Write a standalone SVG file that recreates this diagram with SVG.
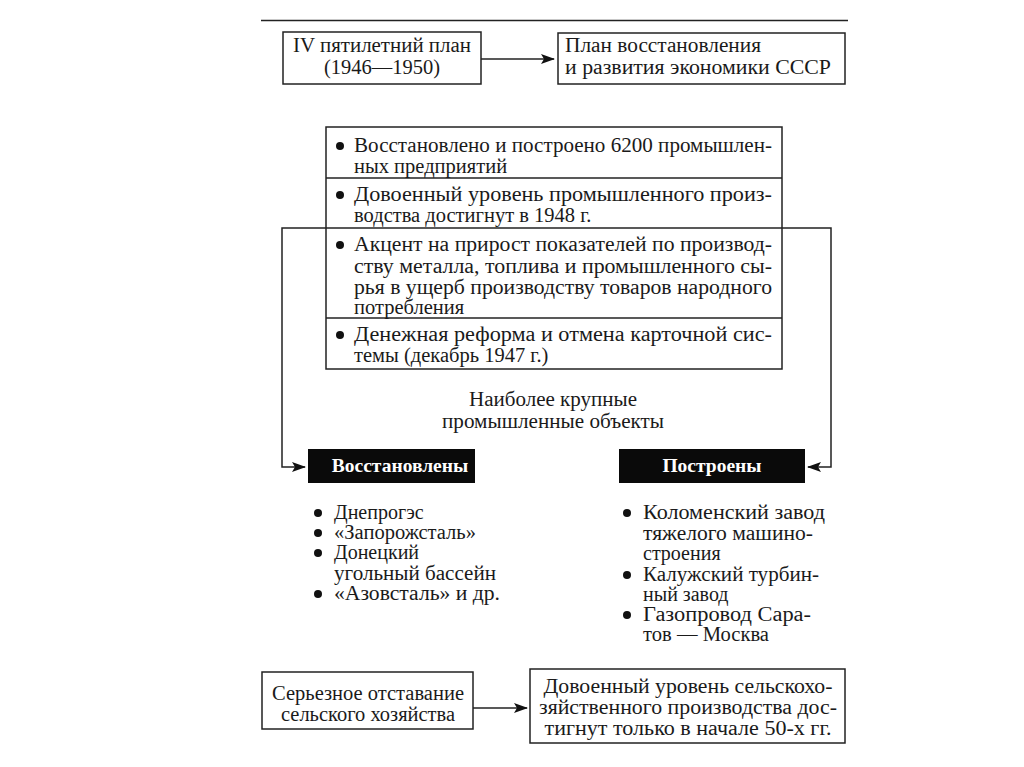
<svg xmlns="http://www.w3.org/2000/svg" width="1024" height="767" viewBox="0 0 1024 767">
<defs>
<style>
text{font-family:"Liberation Serif","Times New Roman",serif;font-size:20.5px;fill:#1a1a1a}
.lst{font-size:20px}
.box{fill:#fff;stroke:#222;stroke-width:1.5}
.blk{fill:#0a0a0a;stroke:none}
.wt{fill:#fff;font-weight:bold;font-size:19.5px}
.ln{fill:none;stroke:#222;stroke-width:1.5}
.mid{text-anchor:middle}
</style>
<marker id="ah" markerWidth="14" markerHeight="10" refX="13" refY="5" orient="auto" markerUnits="userSpaceOnUse">
<path d="M0,0 L14,5 L0,10 L3,5 z" fill="#111"/>
</marker>
</defs>
<rect width="1024" height="767" fill="#fff"/>
<line x1="261" y1="20.5" x2="848" y2="20.5" stroke="#222" stroke-width="1.5"/>

<g id="connectors">
<line class="ln" x1="481" y1="59" x2="554" y2="59" marker-end="url(#ah)"/>
<polyline class="ln" points="326,228 282,228 282,467 305,467" marker-end="url(#ah)"/>
<polyline class="ln" points="782,228 831,228 831,467 808,467" marker-end="url(#ah)"/>
<line class="ln" x1="473" y1="708" x2="527" y2="708" marker-end="url(#ah)"/>
</g>

<g id="plan4">
<rect class="box" x="283" y="32" width="198" height="52"/>
<text class="mid" x="382" y="52" textLength="178" lengthAdjust="spacingAndGlyphs">IV пятилетний план</text>
<text class="mid" x="382" y="74">(1946—1950)</text>
</g>

<g id="plan-restore">
<rect class="box" x="558" y="33" width="287" height="51"/>
<text x="565" y="52" textLength="196" lengthAdjust="spacingAndGlyphs">План восстановления</text>
<text x="565" y="74" textLength="266" lengthAdjust="spacingAndGlyphs">и развития экономики СССР</text>
</g>

<g id="results">
<rect class="box" x="326" y="127" width="456" height="242"/>
<line class="ln" x1="326" y1="178" x2="782" y2="178"/>
<line class="ln" x1="326" y1="228" x2="782" y2="228"/>
<line class="ln" x1="326" y1="318" x2="782" y2="318"/>
<circle cx="340" cy="146" r="4" fill="#111"/>
<text x="354" y="152" textLength="418" lengthAdjust="spacingAndGlyphs">Восстановлено и построено 6200 промышлен-</text>
<text x="354" y="173">ных предприятий</text>
<circle cx="340" cy="195" r="4" fill="#111"/>
<text x="354" y="201" textLength="418" lengthAdjust="spacingAndGlyphs">Довоенный уровень промышленного произ-</text>
<text x="354" y="222">водства достигнут в 1948 г.</text>
<circle cx="340" cy="245" r="4" fill="#111"/>
<text x="354" y="251" textLength="418" lengthAdjust="spacingAndGlyphs">Акцент на прирост показателей по производ-</text>
<text x="354" y="273" textLength="418" lengthAdjust="spacingAndGlyphs">ству металла, топлива и промышленного сы-</text>
<text x="354" y="294" textLength="418" lengthAdjust="spacingAndGlyphs">рья в ущерб производству товаров народного</text>
<text x="354" y="314">потребления</text>
<circle cx="340" cy="335" r="4" fill="#111"/>
<text x="354" y="341" textLength="418" lengthAdjust="spacingAndGlyphs">Денежная реформа и отмена карточной сис-</text>
<text x="354" y="362">темы (декабрь 1947 г.)</text>
</g>

<g id="largest">
<text class="mid" x="553" y="406" textLength="168" lengthAdjust="spacingAndGlyphs">Наиболее крупные</text>
<text class="mid" x="553" y="428" textLength="222" lengthAdjust="spacingAndGlyphs">промышленные объекты</text>
</g>

<g id="restored">
<rect class="blk" x="308" y="449" width="167" height="34"/>
<text class="wt mid" x="400" y="472">Восстановлены</text>
</g>

<g id="built">
<rect class="blk" x="619" y="449" width="186" height="34"/>
<text class="wt mid" x="712" y="472">Построены</text>
</g>

<g id="restored-list">
<circle cx="318" cy="513" r="4" fill="#111"/>
<text class="lst" x="334" y="519">Днепрогэс</text>
<circle cx="318" cy="533" r="4" fill="#111"/>
<text class="lst" x="334" y="539" textLength="142" lengthAdjust="spacingAndGlyphs">«Запорожсталь»</text>
<circle cx="318" cy="553" r="4" fill="#111"/>
<text class="lst" x="334" y="559">Донецкий</text>
<text class="lst" x="334" y="580" textLength="162" lengthAdjust="spacingAndGlyphs">угольный бассейн</text>
<circle cx="318" cy="594" r="4" fill="#111"/>
<text class="lst" x="334" y="600" textLength="166" lengthAdjust="spacingAndGlyphs">«Азовсталь» и др.</text>
</g>

<g id="built-list">
<circle cx="627" cy="513" r="4" fill="#111"/>
<text class="lst" x="643" y="519" textLength="182" lengthAdjust="spacingAndGlyphs">Коломенский завод</text>
<text class="lst" x="643" y="540" textLength="170" lengthAdjust="spacingAndGlyphs">тяжелого машино-</text>
<text class="lst" x="643" y="560">строения</text>
<circle cx="627" cy="575" r="4" fill="#111"/>
<text class="lst" x="643" y="581" textLength="176" lengthAdjust="spacingAndGlyphs">Калужский турбин-</text>
<text class="lst" x="643" y="601">ный завод</text>
<circle cx="627" cy="615" r="4" fill="#111"/>
<text class="lst" x="643" y="621" textLength="168" lengthAdjust="spacingAndGlyphs">Газопровод Сара-</text>
<text class="lst" x="643" y="641" textLength="126" lengthAdjust="spacingAndGlyphs">тов — Москва</text>
</g>

<g id="agri-lag">
<rect class="box" x="262" y="672" width="211" height="57"/>
<text class="mid" x="368" y="700" textLength="192" lengthAdjust="spacingAndGlyphs">Серьезное отставание</text>
<text class="mid" x="368" y="721" textLength="174" lengthAdjust="spacingAndGlyphs">сельского хозяйства</text>
</g>

<g id="agri-level">
<rect class="box" x="530" y="669" width="315" height="74"/>
<text class="mid" x="688" y="693" textLength="289" lengthAdjust="spacingAndGlyphs">Довоенный уровень сельскохо-</text>
<text class="mid" x="688" y="714" textLength="298" lengthAdjust="spacingAndGlyphs">зяйственного производства дос-</text>
<text class="mid" x="688" y="735" textLength="287" lengthAdjust="spacingAndGlyphs">тигнут только в начале 50-х гг.</text>
</g>
</svg>
